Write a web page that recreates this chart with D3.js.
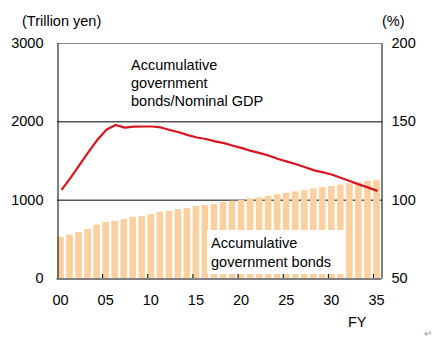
<!DOCTYPE html>
<html><head><meta charset="utf-8">
<script src="https://cdn.jsdelivr.net/npm/d3@7"></script>
<style>
body{margin:0;background:#fff;}
text{font-family:"Liberation Sans",Arial,sans-serif;font-size:14.5px;fill:#000;}
</style></head>
<body>
<svg id="c" width="436" height="338"></svg>
<script>
const years = ["00","01","02","03","04","05","06","07","08","09","10","11","12","13","14","15","16","17","18","19","20","21","22","23","24","25","26","27","28","29","30","31","32","33","34","35"];
const bonds = [527,553,587,626,681,715,728,753,779,792,817,843,856,881,894,920,932,945,971,987,996,1018,1030,1050,1070,1090,1105,1122,1145,1162,1175,1192,1209,1222,1239,1252];
const ratio = [106.2,113.9,122.2,130.5,138.4,144.8,147.7,146.0,146.6,146.7,146.7,146.1,144.5,143.0,141.2,139.7,138.7,137.2,136.1,134.4,132.9,131.1,129.7,128.0,126.0,124.3,122.6,120.7,118.7,117.4,115.9,113.8,111.7,109.6,107.7,105.6];
const leftTicks = [0,1000,2000,3000];
const rightTicks = [50,100,150,200];
const xTickLabels = ["00","05","10","15","20","25","30","35"];

const L=57, R=382, T=43, B=278;
const svg = d3.select("#c");
const x = d3.scaleBand().domain(years).range([L,R]).padding(0);
const bw = x.bandwidth();
const yL = d3.scaleLinear().domain([0,3000]).range([B,T]);
const yR = d3.scaleLinear().domain([50,200]).range([B,T]);

// gridlines
svg.append("g").selectAll("line").data([1000,2000]).join("line")
  .attr("x1",L).attr("x2",R).attr("y1",d=>yL(d)+0.5).attr("y2",d=>yL(d)+0.5)
  .attr("stroke","#000").attr("stroke-width",1);

// bars
svg.append("g").selectAll("rect").data(years).join("rect")
  .attr("x",d=>x(d)+0.2).attr("width",bw*0.73)
  .attr("y",(d,i)=>yL(bonds[i])).attr("height",(d,i)=>B-yL(bonds[i]))
  .attr("fill","#fccf9f");

// line
const line = d3.line().x((d,i)=>x(years[i])+bw/2).y(d=>yR(d));
svg.append("path").datum(ratio).attr("d",line)
  .attr("fill","none").attr("stroke","#d9141c").attr("stroke-width",2.2)
  .attr("stroke-linejoin","round");

// annotation box for bonds
svg.append("rect").attr("x",207).attr("y",230).attr("width",137).attr("height",44).attr("fill","#fff");
const a2 = svg.append("text").attr("x",211).attr("y",248);
a2.append("tspan").attr("x",211).text("Accumulative");
a2.append("tspan").attr("x",211).attr("dy",19).text("government bonds");

const a1 = svg.append("text").attr("x",131).attr("y",70);
a1.append("tspan").attr("x",131).text("Accumulative");
a1.append("tspan").attr("x",131).attr("dy",18).text("government");
a1.append("tspan").attr("x",131).attr("dy",18).text("bonds/Nominal GDP");

// frame
svg.append("line").attr("x1",L).attr("x2",R).attr("y1",T+0.5).attr("y2",T+0.5).attr("stroke","#888");
// axes
const axL = d3.axisLeft(yL).tickValues(leftTicks).tickFormat(d3.format("d")).tickSize(0).tickPadding(14);
const gL = svg.append("g").attr("transform",`translate(${L+0.5},0)`).call(axL);
gL.select(".domain").attr("stroke","#000");
gL.selectAll("text").style("font-size","14.5px").attr("font-family",null);

const axR = d3.axisRight(yR).tickValues(rightTicks).tickSize(0).tickPadding(10);
const gR = svg.append("g").attr("transform",`translate(${R-0.5},0)`).call(axR);
gR.select(".domain").attr("stroke","#000");
gR.selectAll("text").style("font-size","14.5px").attr("font-family",null);

const axB = d3.axisBottom(x).tickValues(xTickLabels).tickSize(0).tickPadding(16);
const gB = svg.append("g").attr("transform",`translate(-1,${B+0.5})`).call(axB);
gB.select(".domain").attr("stroke","#000");
gB.selectAll("text").style("font-size","14.5px").attr("font-family",null);

// inner tick marks at band starts
svg.append("g").selectAll("line").data(xTickLabels.slice(1)).join("line")
  .attr("x1",d=>x(d)+0.5).attr("x2",d=>x(d)+0.5).attr("y1",B).attr("y2",B-4)
  .attr("stroke","#000");

// titles
svg.append("text").attr("x",22).attr("y",26).text("(Trillion yen)");
svg.append("text").attr("x",382).attr("y",26).text("(%)");
svg.append("text").attr("x",348).attr("y",327).text("FY");
svg.append("text").attr("x",424).attr("y",337).style("font-size","10px").style("fill","#999").text("↵");
</script>
</body></html>
